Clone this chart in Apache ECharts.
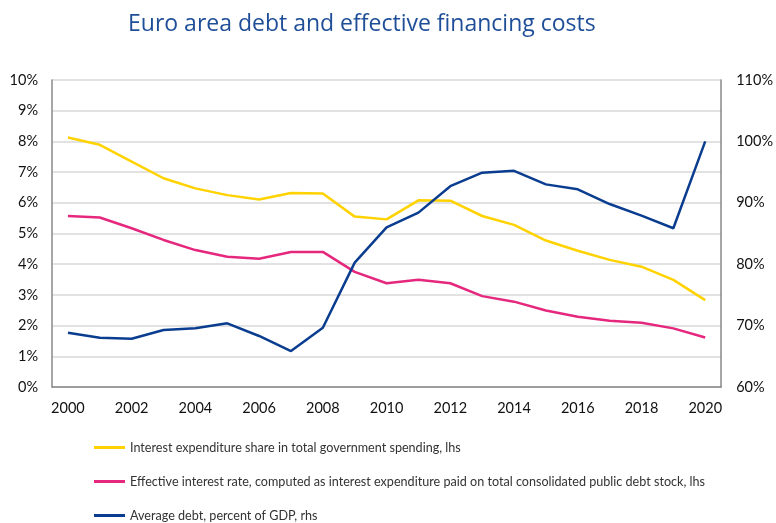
<!DOCTYPE html>
<html>
<head>
<meta charset="utf-8">
<script src="https://cdn.jsdelivr.net/npm/echarts@6/dist/echarts.min.js"></script>
<style>
html,body{margin:0;padding:0;background:#fff;}
#c{width:776px;height:523px;}
</style>
</head>
<body>
<div id="c"></div>
<script>
const years = ['2000','2001','2002','2003','2004','2005','2006','2007','2008','2009','2010','2011','2012','2013','2014','2015','2016','2017','2018','2019','2020'];
const interestShare = [8.13,7.89,7.34,6.80,6.47,6.25,6.11,6.32,6.30,5.55,5.46,6.08,6.07,5.57,5.28,4.77,4.44,4.14,3.92,3.49,2.83];
const effectiveRate = [5.57,5.52,5.17,4.79,4.46,4.24,4.18,4.40,4.40,3.75,3.38,3.49,3.38,2.96,2.78,2.49,2.29,2.16,2.09,1.91,1.61];
const avgDebt = [68.85,68.03,67.87,69.28,69.56,70.37,68.31,65.86,69.66,80.25,86.0,88.4,92.7,94.9,95.2,93.0,92.2,89.8,87.9,85.85,100.0];
const seriesNames = [
  'Interest expenditure share in total government spending, lhs',
  'Effective interest rate, computed as interest expenditure paid on total consolidated public debt stock, lhs',
  'Average debt, percent of GDP, rhs'
];
const titleText = 'Euro area debt and effective financing costs';

const font = 'Lato';
const legendTops = [441, 475, 509];
const chart = echarts.init(document.getElementById('c'));
chart.setOption({
  animation: false,
  backgroundColor: '#fff',
  title: {
    text: titleText,
    left: 123, top: 8,
    textStyle: {fontFamily: 'Open Sans', fontWeight: 'normal', fontSize: 23, color: '#1f4e99'}
  },
  grid: {left: 52, right: 53, top: 80, bottom: 136},
  legend: seriesNames.map((n, i) => ({
    orient: 'vertical', left: 94, top: legendTops[i], padding: 0,
    itemWidth: 31, itemHeight: 3, icon: 'rect', itemGap: 0,
    textStyle: {fontFamily: font, fontSize: 12.6, color: '#333'},
    data: [n]
  })),
  xAxis: {
    type: 'category', data: years, boundaryGap: true,
    axisLine: {lineStyle: {color: '#888', width: 1.5}},
    axisTick: {show: false},
    axisLabel: {interval: 1, fontFamily: font, fontSize: 14.5, color: '#111', margin: 14}
  },
  yAxis: [
    {type: 'value', min: 0, max: 10, interval: 1,
     axisLine: {show: true, lineStyle: {color: '#888', width: 1.5}},
     axisTick: {show: false},
     splitLine: {lineStyle: {color: '#d9d9d9', width: 1.5}},
     axisLabel: {formatter: '{value}%', fontFamily: font, fontSize: 14.5, color: '#111', margin: 14}},
    {type: 'value', min: 60, max: 110, interval: 10, position: 'right',
     axisLine: {show: true, lineStyle: {color: '#888', width: 1.5}},
     axisTick: {show: false},
     splitLine: {show: false},
     axisLabel: {formatter: '{value}%', fontFamily: font, fontSize: 14.5, color: '#111', margin: 15}}
  ],
  series: [
    {name: seriesNames[0], type: 'line', data: interestShare, yAxisIndex: 0, symbol: 'none',
     itemStyle: {color: '#ffd200'}, lineStyle: {color: '#ffd200', width: 2.5}},
    {name: seriesNames[1], type: 'line', data: effectiveRate, yAxisIndex: 0, symbol: 'none',
     itemStyle: {color: '#e5287d'}, lineStyle: {color: '#e5287d', width: 2.5}},
    {name: seriesNames[2], type: 'line', data: avgDebt, yAxisIndex: 1, symbol: 'none',
     itemStyle: {color: '#0a3d8f'}, lineStyle: {color: '#0a3d8f', width: 2.5}}
  ]
});
</script>
</body>
</html>
